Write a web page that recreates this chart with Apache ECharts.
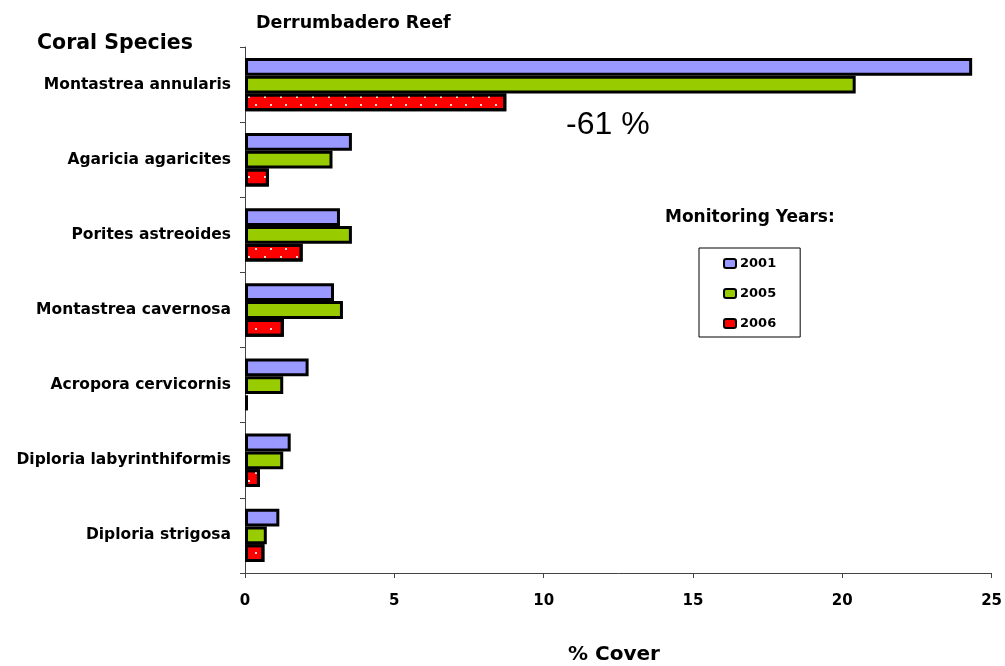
<!DOCTYPE html>
<html><head><meta charset="utf-8">
<script src="https://cdn.jsdelivr.net/npm/echarts@6/dist/echarts.min.js"></script>
<style>html,body{margin:0;padding:0;background:#fff}#c{width:1005px;height:666px}</style>
</head><body><div id="c"></div>
<script>
const categories = ["Montastrea annularis","Agaricia agaricites","Porites astreoides","Montastrea cavernosa","Acropora cervicornis","Diploria labyrinthiformis","Diploria strigosa"];
const years = ["2001","2005","2006"];
const v2001 = [24.35, 3.58, 3.18, 2.98, 2.13, 1.53, 1.15];
const v2005 = [20.45, 2.93, 3.58, 3.28, 1.28, 1.28, 0.73];
const v2006 = [8.75, 0.8, 1.93, 1.3, 0.1, 0.5, 0.65];
const xTicks = [0,5,10,15,20,25];
const colors = ["#9999ff","#99cc00","#ff0000"];
const FONT = "DejaVu Sans, sans-serif";
const FONT2 = "Liberation Sans, Arial, sans-serif";

const chart = echarts.init(document.getElementById('c'));
function mk(name, data, color, decal){
  const s = {name, type:'bar', data, barGap:'0%', barCategoryGap:'29%',
    itemStyle:{color, borderColor:'#000', borderWidth:3}};
  if (decal) s.itemStyle.decal = decal;
  return s;
}
const dotDecal = {symbol:'rect', symbolSize:1, color:'rgba(255,255,255,0.85)', backgroundColor:null,
  dashArrayX:[[2,13],[0,7.5,2,5.5]], dashArrayY:[2,6]};
chart.setOption({
  animation:false,
  textStyle:{fontFamily:FONT},
  grid:{left:245, right:13, top:47, bottom:93},
  title:[
    {text:'Derrumbadero Reef', left:251, top:9, textStyle:{fontFamily:FONT, fontSize:17.5, fontWeight:'bold', color:'#000'}},
    {text:'Coral Species', left:32, top:28, textStyle:{fontFamily:FONT, fontSize:20.5, fontWeight:'bold', color:'#000'}},
    {text:'% Cover', left:563, top:640, textStyle:{fontFamily:FONT, fontSize:20, fontWeight:'bold', color:'#000'}},
    {text:'-61 %', left:561, top:104, textStyle:{fontFamily:FONT2, fontSize:32, fontWeight:'normal', color:'#000'}},
    {text:'Monitoring Years:', left:660, top:204, textStyle:{fontFamily:FONT, fontSize:17, fontWeight:'bold', color:'#000'}}
  ],
  legend:{orient:'vertical', left:699, top:248, padding:[9,24,7,24], itemGap:17,
    itemWidth:12, itemHeight:9, borderColor:'#000', borderWidth:1,
    itemStyle:{borderWidth:2, borderColor:'#000', decal:'none'},
    textStyle:{fontFamily:FONT, fontSize:13, fontWeight:'bold', color:'#000', padding:[0,0,0,-1]},
    data:years},
  xAxis:{type:'value', min:0, max:25, interval:5,
    axisLine:{show:true, lineStyle:{color:'#444', width:1}},
    axisTick:{show:true, length:5, lineStyle:{color:'#444'}},
    splitLine:{show:false},
    axisLabel:{fontFamily:FONT, fontSize:15, fontWeight:'bold', color:'#000', margin:21,
      formatter:(v)=> xTicks.includes(v) ? String(v) : ''}},
  yAxis:{type:'category', data:categories, inverse:true,
    axisLine:{show:true, lineStyle:{color:'#444', width:1}},
    axisTick:{show:true, length:5, lineStyle:{color:'#444'}},
    axisLabel:{fontFamily:FONT, fontSize:15.5, fontWeight:'bold', color:'#000', margin:14}},
  series:[mk(years[0], v2001, colors[0]), mk(years[1], v2005, colors[1]), mk(years[2], v2006, colors[2], dotDecal)]
});
</script></body></html>
